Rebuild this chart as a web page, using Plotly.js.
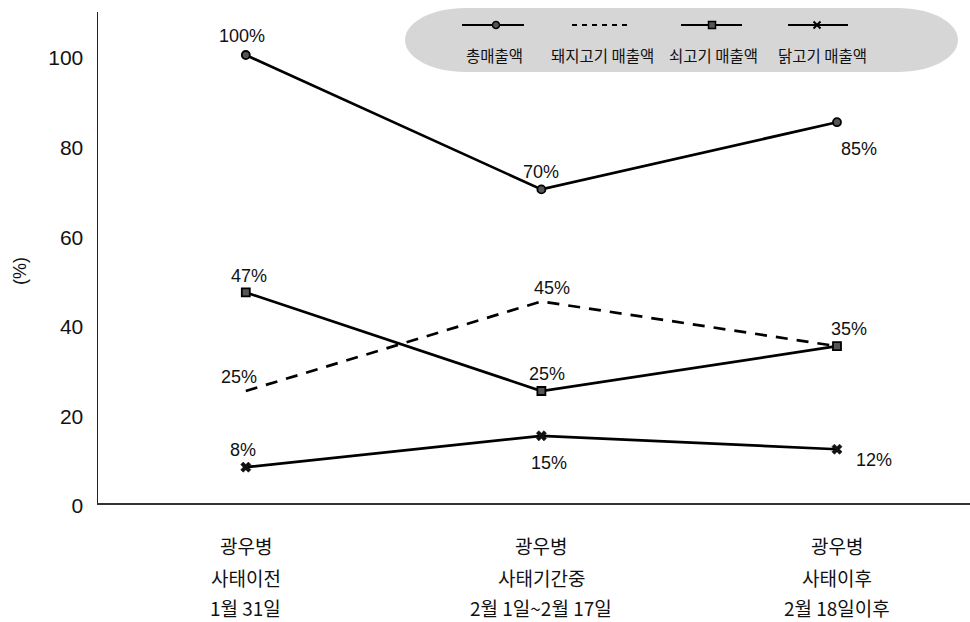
<!DOCTYPE html>
<html>
<head>
<meta charset="utf-8">
<script src="https://cdn.plot.ly/plotly-3.0.1.min.js"></script>
<style>html,body{margin:0;padding:0;background:#fff;}#chart{width:970px;height:622px;}</style>
</head>
<body>
<div id="chart"></div>
<script>
// ---- data ----
var categories = ['광우병 사태이전', '광우병 사태기간중', '광우병 사태이후'];
var catLine1 = ['광우병', '광우병', '광우병'];
var catLine2 = ['사태이전', '사태기간중', '사태이후'];
var catLine3 = ['1월 31일', '2월 1일~2월 17일', '2월 18일이후'];
var seriesNames = ['총매출액', '돼지고기 매출액', '쇠고기 매출액', '닭고기 매출액'];
var totalSales = [100, 70, 85];
var porkSales = [25, 45, 35];
var beefSales = [47, 25, 35];
var chickenSales = [8, 15, 12];
var yTickVals = [0, 20, 40, 60, 80, 100];
var yTitle = '(%)';

// ---- layout geometry (pixels) ----
var W = 970, H = 622, L = 98, R = 0, T = 12, B = 119;
var pw = W - L - R, ph = H - T - B;
function px(x) { return (x - L) / pw; }
function py(y) { return (H - B - y) / ph; }

var numFont = '"Liberation Sans", Arial, sans-serif';
var korFont = '"Noto Sans CJK KR", sans-serif';

var series = [
  {name: seriesNames[0], y: totalSales, dash: 'solid', symbol: 'circle', showM: true,
   off: [[-4, -19], [0, -17], [22, 27]]},
  {name: seriesNames[1], y: porkSales, dash: '12px,9px', symbol: 'circle', showM: false,
   off: [[-7, -14], [11, -13], null]},
  {name: seriesNames[2], y: beefSales, dash: 'solid', symbol: 'square', showM: true,
   off: [[3, -16], [6, -17], [12, -17]]},
  {name: seriesNames[3], y: chickenSales, dash: 'solid', symbol: 'x', showM: true,
   off: [[-3, -17], [8, 27], [37, 11]]}
];

var traces = series.map(function (s) {
  return {
    type: 'scatter', x: categories, y: s.y, name: s.name,
    mode: s.showM ? 'lines+markers' : 'lines',
    line: {color: '#000', width: 2.7, dash: s.dash},
    marker: {symbol: s.symbol, size: s.symbol === 'x' ? 9 : 8, color: s.symbol === 'x' ? '#111' : '#555',
             line: {color: '#000', width: s.symbol === 'x' ? 0.5 : 1.8}},
    showlegend: false, hoverinfo: 'skip'
  };
});

var annotations = [];
series.forEach(function (s) {
  s.y.forEach(function (v, i) {
    if (!s.off[i]) return;
    annotations.push({x: categories[i], y: v, xref: 'x', yref: 'y', text: v + '%', showarrow: false,
      xanchor: 'center', yanchor: 'middle',
      xshift: s.off[i][0], yshift: -s.off[i][1],
      font: {family: numFont, size: 18, color: '#111'}});
  });
});
// category labels
var lineYs = [545, 577, 607];
[catLine1, catLine2, catLine3].forEach(function (arr, k) {
  arr.forEach(function (t, i) {
    annotations.push({x: categories[i], y: py(lineYs[k]), xref: 'x', yref: 'paper', text: t,
      showarrow: false, xanchor: 'center', yanchor: 'middle', font: {family: korFont, size: 19, color: '#111'}});
  });
});
// y title
annotations.push({x: px(20), y: py(271), xref: 'paper', yref: 'paper', text: yTitle, textangle: -90,
  xanchor: 'center', yanchor: 'middle',
  showarrow: false, font: {family: numFont, size: 18, color: '#111'}});

// legend (decoration)
var shapes = [];
var lx1 = 405, lx2 = 958, ly1 = 8, ly2 = 72, rx = 60;
var ymid = (ly1 + ly2) / 2;
var k = 0.5523;
var path = 'M ' + px(lx1 + rx) + ' ' + py(ly1) +
  ' L ' + px(lx2 - rx) + ' ' + py(ly1) +
  ' C ' + px(lx2 - rx + rx * k) + ' ' + py(ly1) + ' ' + px(lx2) + ' ' + py(ymid - (ymid - ly1) * k) + ' ' + px(lx2) + ' ' + py(ymid) +
  ' C ' + px(lx2) + ' ' + py(ymid + (ly2 - ymid) * k) + ' ' + px(lx2 - rx + rx * k) + ' ' + py(ly2) + ' ' + px(lx2 - rx) + ' ' + py(ly2) +
  ' L ' + px(lx1 + rx) + ' ' + py(ly2) +
  ' C ' + px(lx1 + rx - rx * k) + ' ' + py(ly2) + ' ' + px(lx1) + ' ' + py(ymid + (ly2 - ymid) * k) + ' ' + px(lx1) + ' ' + py(ymid) +
  ' C ' + px(lx1) + ' ' + py(ymid - (ymid - ly1) * k) + ' ' + px(lx1 + rx - rx * k) + ' ' + py(ly1) + ' ' + px(lx1 + rx) + ' ' + py(ly1) + ' Z';
shapes.push({type: 'path', xref: 'paper', yref: 'paper', path: path, fillcolor: '#d6d6d6', line: {width: 0}, layer: 'below'});

var legItems = [
  {x1: 462, x2: 524, mx: 496, tx: 494, dash: 'solid', m: 'circle'},
  {x1: 572, x2: 630, mx: null, tx: 602, dash: 'dash', m: null},
  {x1: 681, x2: 742, mx: 712, tx: 713, dash: 'solid', m: 'square'},
  {x1: 788, x2: 848, mx: 817, tx: 822, dash: 'solid', m: 'x'}
];
var legY = 25, legTY = 55;
legItems.forEach(function (it, i) {
  shapes.push({type: 'line', xref: 'paper', yref: 'paper', x0: px(it.x1), x1: px(it.x2), y0: py(legY), y1: py(legY),
    line: {color: '#000', width: 2, dash: it.dash === 'dash' ? '5px,5px' : 'solid'}});
  var r = 3.5;
  if (it.m === 'circle') {
    shapes.push({type: 'circle', xref: 'paper', yref: 'paper', x0: px(it.mx - r), x1: px(it.mx + r), y0: py(legY - r), y1: py(legY + r),
      fillcolor: '#555', line: {color: '#000', width: 1.5}});
  } else if (it.m === 'square') {
    shapes.push({type: 'rect', xref: 'paper', yref: 'paper', x0: px(it.mx - r), x1: px(it.mx + r), y0: py(legY - r), y1: py(legY + r),
      fillcolor: '#555', line: {color: '#000', width: 1.5}});
  } else if (it.m === 'x') {
    shapes.push({type: 'path', xref: 'paper', yref: 'paper',
      path: 'M ' + px(it.mx - r) + ' ' + py(legY - r) + ' L ' + px(it.mx + r) + ' ' + py(legY + r) +
            ' M ' + px(it.mx - r) + ' ' + py(legY + r) + ' L ' + px(it.mx + r) + ' ' + py(legY - r),
      line: {color: '#000', width: 2}});
  }
  annotations.push({x: px(it.tx), y: py(legTY), xref: 'paper', yref: 'paper', text: seriesNames[i], showarrow: false,
    xanchor: 'center', yanchor: 'middle',
    font: {family: korFont, size: 15.5, color: '#111'}});
});

var layout = {
  width: W, height: H,
  margin: {l: L, r: R, t: T, b: B, pad: 0},
  paper_bgcolor: '#fff', plot_bgcolor: '#fff',
  showlegend: false,
  xaxis: {type: 'category', range: [-0.5, 2.45], showticklabels: false, ticks: '', showgrid: false, zeroline: false,
    showline: true, linecolor: '#333', linewidth: 2, fixedrange: true},
  yaxis: {range: [0, 109.6], tickvals: yTickVals, showgrid: false, zeroline: false, showline: true, linecolor: '#222',
    linewidth: 1.5, ticks: '', ticklabelstandoff: 9, ticklabelshift: 3,
    tickfont: {family: numFont, size: 21, color: '#111'}, fixedrange: true},
  annotations: annotations,
  shapes: shapes
};

Plotly.newPlot('chart', traces, layout, {displayModeBar: false, staticPlot: true});
</script>
</body>
</html>
